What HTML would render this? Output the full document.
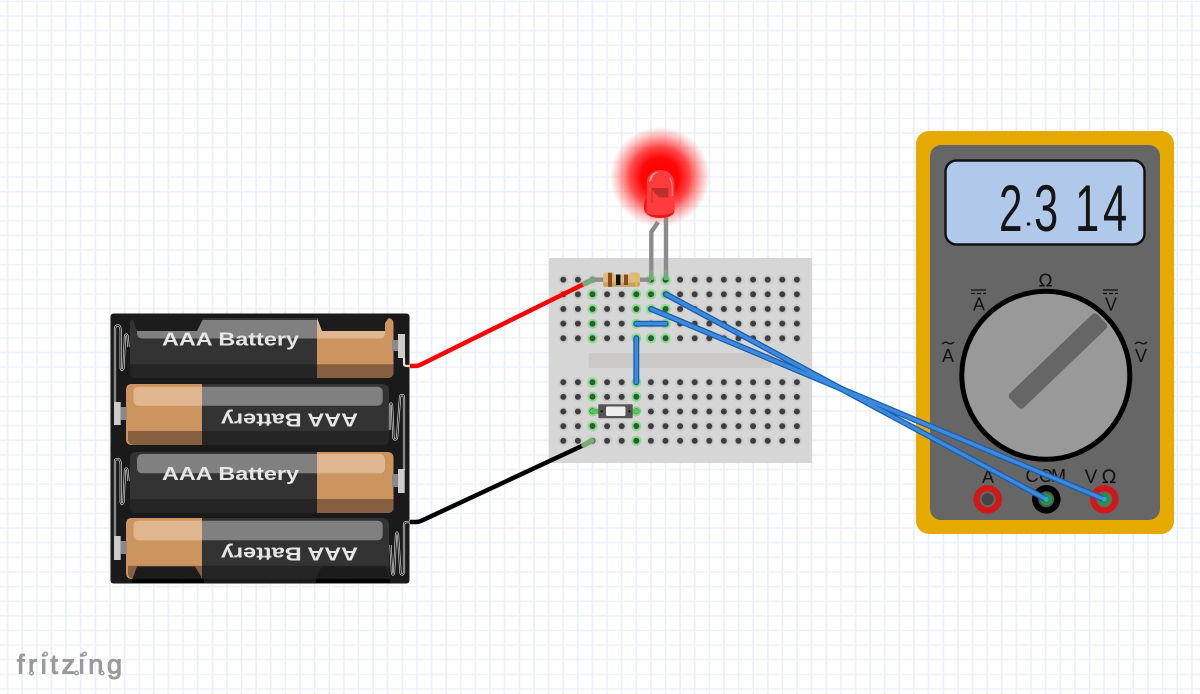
<!DOCTYPE html>
<html><head><meta charset="utf-8"><title>Fritzing diagram</title>
<style>html,body{margin:0;padding:0;background:#fff}svg{display:block}text{font-family:"Liberation Sans","DejaVu Sans",sans-serif}</style></head>
<body>
<svg xmlns="http://www.w3.org/2000/svg" width="1200" height="694" viewBox="0 0 1200 694">
<defs>
<pattern id="grid" x="5.6" y="-0.6" width="14.62" height="14.63" patternUnits="userSpaceOnUse">
<path d="M0 2H14.62" stroke="#eef2f7" stroke-width="1.6" fill="none"/>
<path d="M2 0V14.63" stroke="#ebeff5" stroke-width="1.6" fill="none"/>
</pattern>
<pattern id="holes" x="556" y="272.4" width="14.6" height="14.65" patternUnits="userSpaceOnUse">
<circle cx="7.3" cy="7.3" r="5" fill="#cbcbcb"/><circle cx="7.3" cy="7.3" r="3" fill="#3d3d3d"/>
</pattern>
<radialGradient id="glow"><stop offset="0" stop-color="#ff0000"/><stop offset=".38" stop-color="#ff0808"/><stop offset=".6" stop-color="#ff1c1c" stop-opacity=".8"/><stop offset=".8" stop-color="#ff3c3c" stop-opacity=".42"/><stop offset="1" stop-color="#ff5050" stop-opacity="0"/></radialGradient>
<g id="gh"><circle r="5" fill="#84de84"/><circle r="3" fill="#2f5a38"/></g>
</defs>
<rect width="1200" height="694" fill="#fff"/>
<rect width="1200" height="694" fill="url(#grid)"/>

<!-- breadboard -->
<rect x="549" y="258" width="263" height="205" fill="#d6d6d6"/>
<rect x="588.7" y="353" width="183.3" height="15" fill="#cbc9c7"/>
<rect x="556" y="272" width="249" height="74" fill="url(#holes)"/>
<rect x="556" y="375" width="249" height="73" fill="url(#holes)"/>

<!-- green holes -->
<g>
<use href="#gh" x="592.5" y="294.3"/><use href="#gh" x="592.5" y="309"/><use href="#gh" x="592.5" y="323.7"/><use href="#gh" x="592.5" y="338.3"/>
<use href="#gh" x="636.3" y="294.3"/><use href="#gh" x="636.3" y="309"/><use href="#gh" x="636.3" y="338.3"/>
<use href="#gh" x="651" y="279.7"/><use href="#gh" x="665.6" y="279.7"/>
<use href="#gh" x="651" y="294.3"/><use href="#gh" x="665.6" y="294.3"/>
<use href="#gh" x="651" y="309"/><use href="#gh" x="665.6" y="309"/>
<use href="#gh" x="665.6" y="323.7"/><use href="#gh" x="636.3" y="323.7"/>
<use href="#gh" x="651" y="338.3"/><use href="#gh" x="665.6" y="338.3"/>
<use href="#gh" x="592.5" y="382.3"/><use href="#gh" x="592.5" y="396.7"/><use href="#gh" x="592.5" y="426"/>
<use href="#gh" x="636.3" y="382.3"/><use href="#gh" x="636.3" y="396.7"/><use href="#gh" x="636.3" y="426"/><use href="#gh" x="636.3" y="440.7"/>
<use href="#gh" x="592.5" y="411.3"/><use href="#gh" x="636.3" y="411.3"/>
</g>

<!-- LED -->
<circle cx="660" cy="176.7" r="50" fill="url(#glow)"/>
<path d="M651.3 280V232L658 222" fill="none" stroke="#8c8c8c" stroke-width="4.4"/>
<path d="M666 280V216" fill="none" stroke="#8c8c8c" stroke-width="4.4"/>
<path d="M651.3 280V270M666 280V270" stroke="#78a878" stroke-width="4.4"/>
<path d="M647 197C644 200 644 204 644 208C644 214 650 218 660 218C667 218 674 216 674.5 211V205Z" fill="#ea1a1a"/>
<path d="M646.7 212V184C646.7 175 653 170 660.5 170C668 170 674.3 175 674.3 184V209C674.3 213 668 215 660 215C653 215 646.7 215 646.7 212Z" fill="#ff3c3c"/>
<path d="M651 181C652 176 655 173 659 172C654 171.500 649.500 175 649 182Z" fill="#ff9a9a"/>
<path d="M652 188.500H668V197H659.500L652 189V203" fill="#bf2e2e" stroke="#bf2e2e"/>
<path d="M670 178C672 182 672.500 186 672.500 196" stroke="#ff7a7a" stroke-width="1.400" fill="none"/>

<!-- resistor -->
<path d="M593 279.700H651" stroke="#8c8c8c" stroke-width="4.400"/>
<path d="M603 275Q603 272.500 606 272.500H612L615 274.500H628L631 272.500H637Q640 272.500 640 275V284Q640 286.800 637 286.800H631L628 285H615L612 286.800H606Q603 286.800 603 284Z" fill="#dcbb82"/>
<path d="M603 282.500H640V284Q640 286.800 637 286.800H606Q603 286.800 603 284Z" fill="#c79f5f"/>
<rect x="608" y="272.800" width="4" height="14" fill="#8a4a1a"/>
<rect x="616" y="274.500" width="4.500" height="10.500" fill="#111"/>
<rect x="624" y="274.500" width="4" height="10.500" fill="#8a4a1a"/>
<rect x="635.500" y="273" width="1.800" height="13.500" fill="#d8c040"/>

<!-- switch -->
<path d="M592.500 411.300H600M631 411.300H638" stroke="#5fc05f" stroke-width="5" stroke-linecap="round"/>
<rect x="598.300" y="404.300" width="34.400" height="14" rx="1" fill="#555"/>
<rect x="606" y="406.500" width="19.500" height="9.500" rx="1.500" fill="#eee"/>
<circle cx="601.700" cy="411.300" r="1.200" fill="#111"/><circle cx="629.500" cy="411.300" r="1.200" fill="#111"/>

<!-- battery holder -->
<rect x="110.500" y="313.500" width="299" height="270" rx="3" fill="#1a1a1a"/>

<!-- battery 1 -->
<rect x="130" y="318" width="263.500" height="60" rx="6" fill="#333"/>
<path d="M130 364.300H317V378H136Q130 378 130 372Z" fill="#252525"/>
<path d="M317 318H387Q393.500 318 393.500 324V372Q393.500 378 387 378H317Z" fill="#cc9560"/>
<path d="M317 364.300H393.500V372Q393.500 378 387 378H317Z" fill="#876040"/>
<path d="M137 320H317V338.500H143Q137 338.500 137 333Z" fill="#808080"/>
<path d="M317 320H385V333Q385 338.500 379 338.500H317Z" fill="#dfb690"/>
<path d="M131 315H205L197 331H137Z" fill="#1c1c1c"/>
<path d="M316 315H391L385 323V331H322Z" fill="#1c1c1c"/>
<text x="162" y="345.700" font-size="18.500" font-weight="700" fill="#e6e6e6" textLength="137" lengthAdjust="spacingAndGlyphs">AAA Battery</text>

<!-- battery 2 -->
<rect x="126" y="384" width="263" height="61" rx="6" fill="#333"/>
<path d="M202 431H389V439Q389 445 383 445H202Z" fill="#252525"/>
<path d="M202 384H132Q126 384 126 390V439Q126 445 132 445H202Z" fill="#cc9560"/>
<path d="M202 431H128V439Q128 445 134 445H202Z" fill="#876040"/>
<path d="M202 386.700H376.700Q382.700 386.700 382.700 392V400Q382.700 405.700 376.700 405.700H202Z" fill="#808080"/>
<path d="M202 386.700H139Q133.500 386.700 133.500 392V400Q133.500 405.700 139 405.700H202Z" fill="#dfb690"/>
<text x="0" y="0" font-size="18.500" font-weight="700" fill="#e6e6e6" textLength="137" lengthAdjust="spacingAndGlyphs" transform="translate(358,413.300) rotate(180)">AAA Battery</text>

<!-- battery 3 -->
<rect x="130" y="452" width="263.500" height="61" rx="6" fill="#333"/>
<path d="M130 499H317V513H136Q130 513 130 507Z" fill="#252525"/>
<path d="M317 452H387Q393.500 452 393.500 458V507Q393.500 513 387 513H317Z" fill="#cc9560"/>
<path d="M317 499H393.500V507Q393.500 513 387 513H317Z" fill="#876040"/>
<path d="M143 454H317V473.300H143Q137 473.300 137 468V460Q137 454 143 454Z" fill="#808080"/>
<path d="M317 454H379Q385 454 385 460V468Q385 473.300 379 473.300H317Z" fill="#dfb690"/>
<text x="162" y="480" font-size="18.500" font-weight="700" fill="#e6e6e6" textLength="137" lengthAdjust="spacingAndGlyphs">AAA Battery</text>

<!-- battery 4 -->
<rect x="126" y="518" width="263" height="61" rx="6" fill="#333"/>
<path d="M202 565.700H389V573Q389 579 383 579H202Z" fill="#252525"/>
<path d="M202 518H132Q126 518 126 524V573Q126 579 132 579H202Z" fill="#cc9560"/>
<path d="M202 565.700H128V573Q128 579 134 579H202Z" fill="#876040"/>
<path d="M202 520.700H376.700Q382.700 520.700 382.700 526V534Q382.700 540.300 376.700 540.300H202Z" fill="#808080"/>
<path d="M202 520.700H139Q133.500 520.700 133.500 526V534Q133.500 540.300 139 540.300H202Z" fill="#dfb690"/>
<text x="0" y="0" font-size="18.500" font-weight="700" fill="#e6e6e6" textLength="137" lengthAdjust="spacingAndGlyphs" transform="translate(358,547.700) rotate(180)">AAA Battery</text>
<path d="M132 580L137 566.500H195L203 580Z" fill="#1c1c1c"/>
<path d="M315 580L322 566.500H385L390 580Z" fill="#1c1c1c"/>
<path d="M132 579H204V583H132ZM316 579H390V583H316Z" fill="#000"/>

<!-- springs -->
<g fill="none" stroke-linejoin="round">
<g stroke="#e0e0e0" stroke-width="2.200">
<path d="M115 402V329Q115 325.500 118 325.500Q120.500 325.500 120.700 331V368Q122 372 123.500 368L125 336Q126.500 333 127.500 336L128.500 347"/>
<path d="M115 536V461Q115 459 118 459Q120.500 459 120.700 465V502Q122 506 123.500 502L125 470Q126.500 467 127.500 470L128.500 481"/>
<path d="M404 470V398Q404 395 402 395Q400 395 400 398L397 438Q395 441 393.500 438L392 405Q391 402 390 405V430"/>
<path d="M404 358V364Q404 366 407 366H411"/>
<path d="M404 573V525Q404 522 407 522H411"/>
<path d="M404 573Q402 576 400.500 573L398 535Q397 530 396 535L394 573Q393 576 392 573L390.500 545"/>
</g>
<g stroke="#1a1a1a" stroke-width=".9">
<path d="M115 402V329Q115 325.500 118 325.500Q120.500 325.500 120.700 331V368Q122 372 123.500 368L125 336Q126.500 333 127.500 336L128.500 347"/>
<path d="M115 536V461Q115 459 118 459Q120.500 459 120.700 465V502Q122 506 123.500 502L125 470Q126.500 467 127.500 470L128.500 481"/>
<path d="M404 470V398Q404 395 402 395Q400 395 400 398L397 438Q395 441 393.500 438L392 405Q391 402 390 405V430"/>
<path d="M404 573V525Q404 522 407 522H410"/>
<path d="M404 573Q402 576 400.500 573L398 535Q397 530 396 535L394 573Q393 576 392 573L390.500 545"/>
</g>
</g>
<!-- terminals -->
<rect x="392" y="340" width="6" height="11" fill="#888"/><rect x="398" y="334" width="7" height="24" fill="#ccc"/>
<rect x="120.700" y="407" width="6" height="13" fill="#888"/><rect x="114" y="402" width="6.700" height="23" fill="#ccc"/>
<rect x="392" y="474" width="6" height="13" fill="#888"/><rect x="398" y="469" width="6.700" height="24" fill="#ccc"/>
<rect x="120.700" y="541" width="6" height="13" fill="#888"/><rect x="114" y="536" width="6.700" height="24" fill="#ccc"/>

<!-- red / black wires -->
<path d="M410 366H415Q418 366 421 364.500L586 283" fill="none" stroke="#f00" stroke-width="4.500"/>
<path d="M585 283.500L592.500 279.700" stroke="#78a878" stroke-width="5.500" stroke-linecap="round"/>
<path d="M410 522H416Q419 522 422 520.500L584 445" fill="none" stroke="#000" stroke-width="4.500"/>
<path d="M584 445L592 440.700" stroke="#78a878" stroke-width="5.500" stroke-linecap="round"/>

<!-- multimeter -->
<rect x="916" y="131" width="258" height="403" rx="13" fill="#e5a900"/>
<rect x="930" y="145" width="230" height="375" rx="11" fill="#666"/>
<rect x="945.500" y="160.500" width="199" height="84" rx="11" fill="#b0c8ea" stroke="#111" stroke-width="2.400"/>
<g font-size="66" fill="#151515">
<text transform="translate(999,231) scale(.64,1)">2</text>
<text transform="translate(1034,231) scale(.66,1)">3</text>
<text transform="translate(1075,231) scale(.66,1)">1</text>
<text transform="translate(1103,231) scale(.66,1)">4</text>
</g>
<circle cx="1028.500" cy="224" r="1.800" fill="#151515"/>
<circle cx="1045.800" cy="375.300" r="84" fill="#999" stroke="#000" stroke-width="5"/>
<path d="M1103.200 326L1094.800 317.400L1012.800 396L1021.200 404.600Z" fill="#666" stroke="#666" stroke-width="8" stroke-linejoin="round"/>

<g fill="#111" text-anchor="middle">
<text x="1045.500" y="286.500" style="font-family:'DejaVu Sans',sans-serif" font-size="18">Ω</text>
<text x="979" y="310.500" font-size="18">A</text>
<text x="1111" y="310.500" font-size="18">V</text>
<text x="948" y="362" font-size="18">A</text>
<text x="1141" y="362" font-size="18">V</text>
<text x="988" y="483" font-size="18">A</text>
<text x="1032" y="482" font-size="18">C</text>
<text x="1046" y="482" font-size="18">O</text>
<text x="1058.500" y="482" font-size="18">M</text>
<text x="1091" y="483" font-size="19">V</text>
<text x="1109" y="483" font-size="19" style="font-family:'DejaVu Sans',sans-serif">Ω</text>
</g>
<g stroke="#111" stroke-width="1.300" fill="none">
<path d="M971 290H986M971 293.500H975M977 293.500H981M983 293.500H986"/>
<path d="M1103 290H1118M1103 293.500H1107M1109 293.500H1113M1115 293.500H1118"/>
<path d="M942 344Q945 341 948 343T954 342"/>
<path d="M1135 344Q1138 341 1141 343T1147 342"/>
</g>

<!-- jacks -->
<circle cx="987.700" cy="499.300" r="14.300" fill="#d01818"/><circle cx="987.700" cy="499.300" r="8" fill="#666"/><circle cx="987.700" cy="499.300" r="6" fill="#444"/>
<circle cx="1046.300" cy="499.300" r="14.300" fill="#000"/><circle cx="1046.300" cy="499.300" r="8" fill="#555"/>
<circle cx="1104.300" cy="499.300" r="14.300" fill="#d01818"/><circle cx="1104.300" cy="499.300" r="8" fill="#666"/>
<circle cx="1046.300" cy="499.300" r="6" fill="#1f9a3a"/><circle cx="1104.300" cy="499.300" r="6" fill="#1f9a3a"/>

<!-- blue wires -->
<g fill="none" stroke-linecap="round">
<g stroke="#1e5ea8" stroke-width="6">
<path d="M666 294.300L1046.300 499.300"/>
<path d="M651.300 309L1104.300 499.300"/>
<path d="M636.300 323.700H665.600"/>
<path d="M636.300 338.300V382.300"/>
</g>
<g stroke="#3a8ae0" stroke-width="3.400">
<path d="M666 294.300L1046.300 499.300"/>
<path d="M651.300 309L1104.300 499.300"/>
<path d="M636.300 323.700H665.600"/>
<path d="M636.300 338.300V382.300"/>
</g>
</g>
<circle cx="1046.300" cy="499.300" r="2.500" fill="#2fa8b8"/><circle cx="1104.300" cy="499.300" r="2.500" fill="#2fa8b8"/>

<!-- logo -->
<text x="17" y="673.500" font-size="27" fill="#9a9a9a" stroke="#9a9a9a" stroke-width="1" textLength="105" lengthAdjust="spacing">fritzing</text>
<g fill="#fff" stroke="#9a9a9a" stroke-width="1.500">
<circle cx="31.500" cy="673" r="1.800"/><circle cx="45.500" cy="654" r="1.800"/><circle cx="76.500" cy="673" r="1.800"/><circle cx="84.500" cy="654" r="1.800"/><circle cx="102" cy="673" r="1.800"/>
</g>
</svg>
</body></html>
